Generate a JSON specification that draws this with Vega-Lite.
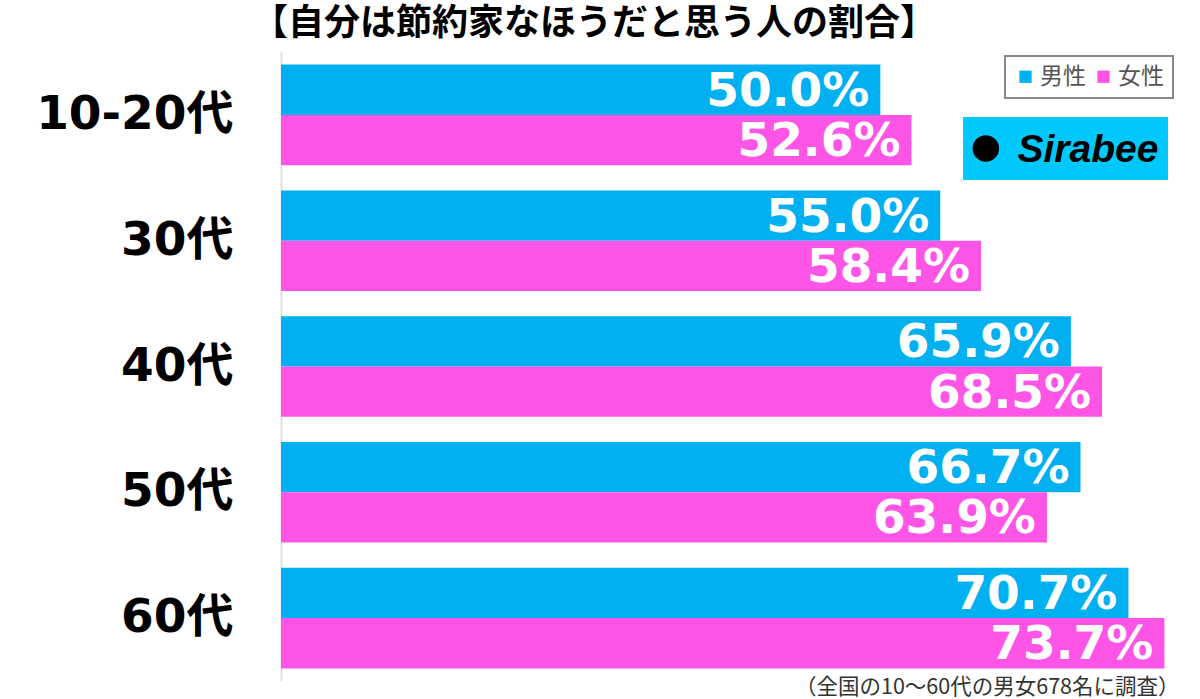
{
  "$schema": "https://vega.github.io/schema/vega-lite/v6.json",
  "width": 899,
  "height": 629,
  "autosize": {"type": "none"},
  "padding": {"left": 281, "top": 52, "right": 20, "bottom": 18},
  "background": "white",
  "title": {
    "text": "【自分は節約家なほうだと思う人の割合】",
    "anchor": "start",
    "frame": "group",
    "dx": -29,
    "offset": 9,
    "font": "Noto Sans CJK JP",
    "fontSize": 36,
    "fontWeight": "bold",
    "color": "#000000"
  },
  "config": {
    "view": {"stroke": null},
    "legend": {"strokeWidth": 2}
  },
  "datasets": {
    "main": [
      {"age": "10-20代", "gender": "男性", "value": 50.0},
      {"age": "10-20代", "gender": "女性", "value": 52.6},
      {"age": "30代", "gender": "男性", "value": 55.0},
      {"age": "30代", "gender": "女性", "value": 58.4},
      {"age": "40代", "gender": "男性", "value": 65.9},
      {"age": "40代", "gender": "女性", "value": 68.5},
      {"age": "50代", "gender": "男性", "value": 66.7},
      {"age": "50代", "gender": "女性", "value": 63.9},
      {"age": "60代", "gender": "男性", "value": 70.7},
      {"age": "60代", "gender": "女性", "value": 73.7}
    ]
  },
  "layer": [
    {
      "data": {"name": "main"},
      "mark": {"type": "bar"},
      "encoding": {
        "y": {
          "field": "age", "type": "nominal",
          "sort": ["10-20代", "30代", "40代", "50代", "60代"],
          "scale": {"paddingInner": 0.2, "paddingOuter": 0.1},
          "axis": {
            "title": null,
            "ticks": false,
            "domain": true,
            "domainColor": "#e0e0e0",
            "domainWidth": 2,
            "labelFont": "DejaVu Sans, Noto Sans CJK JP",
            "labelFontSize": 47,
            "labelFontWeight": "bold",
            "labelColor": "#000000",
            "labelPadding": 48,
            "labelLimit": 400
          }
        },
        "yOffset": {
          "field": "gender", "type": "nominal",
          "sort": ["男性", "女性"],
          "scale": {"paddingInner": 0, "paddingOuter": 0}
        },
        "x": {
          "field": "value", "type": "quantitative",
          "scale": {"domain": [0, 75], "nice": false},
          "axis": {
            "grid": false, "labels": false, "ticks": false, "domain": false,
            "title": "（全国の10〜60代の男女678名に調査）",
            "titleFont": "Noto Sans CJK JP",
            "titleFontSize": 21.5,
            "titleFontWeight": "normal",
            "titleColor": "#333333",
            "titleAnchor": null,
            "titleAlign": "right",
            "titleBaseline": "middle",
            "titleX": 898,
            "titleY": 6
          }
        },
        "color": {
          "field": "gender", "type": "nominal",
          "scale": {"domain": ["男性", "女性"], "range": ["#00B0F0", "#FF55E6"]},
          "legend": {
            "title": null,
            "orient": "none",
            "legendX": 724,
            "legendY": 4,
            "direction": "horizontal",
            "symbolType": "square",
            "symbolSize": 150,
            "symbolStrokeWidth": 0,
            "labelFont": "Noto Sans CJK JP",
            "labelFontSize": 23,
            "labelColor": "#555555",
            "strokeColor": "#888888",
            "padding": 9,
            "columnPadding": 6,
            "labelOffset": 3
          }
        }
      }
    },
    {
      "data": {"name": "main"},
      "transform": [{"calculate": "format(datum.value, '.1f') + '%'", "as": "label"}],
      "mark": {
        "type": "text",
        "align": "right",
        "baseline": "middle",
        "dx": -11,
        "dy": 2,
        "font": "DejaVu Sans",
        "fontSize": 47,
        "fontWeight": "bold",
        "color": "white"
      },
      "encoding": {
        "y": {"field": "age", "type": "nominal", "sort": ["10-20代", "30代", "40代", "50代", "60代"]},
        "yOffset": {"field": "gender", "type": "nominal", "sort": ["男性", "女性"]},
        "x": {"field": "value", "type": "quantitative"},
        "text": {"field": "label"}
      }
    },
    {
      "data": {"values": [{"logo": "Sirabee"}]},
      "mark": {"type": "bar", "height": 63, "yOffset": 33.5, "color": "#00C8FA"},
      "encoding": {
        "y": {"datum": "10-20代", "type": "nominal"},
        "x": {"datum": 56.9, "type": "quantitative"},
        "x2": {"datum": 74.0}
      }
    },
    {
      "data": {"values": [{"logo": "Sirabee"}]},
      "mark": {"type": "point", "filled": true, "shape": "circle", "size": 700, "color": "black", "opacity": 1, "yOffset": 33.5},
      "encoding": {
        "y": {"datum": "10-20代", "type": "nominal"},
        "x": {"datum": 58.8, "type": "quantitative"}
      }
    },
    {
      "data": {"values": [{"logo": "Sirabee"}]},
      "mark": {"type": "text", "align": "right", "baseline": "middle", "yOffset": 35, "font": "Liberation Sans", "fontSize": 39, "fontWeight": "bold", "fontStyle": "italic", "color": "black"},
      "encoding": {
        "y": {"datum": "10-20代", "type": "nominal"},
        "x": {"datum": 73.2, "type": "quantitative"},
        "text": {"field": "logo"}
      }
    }
  ]
}
